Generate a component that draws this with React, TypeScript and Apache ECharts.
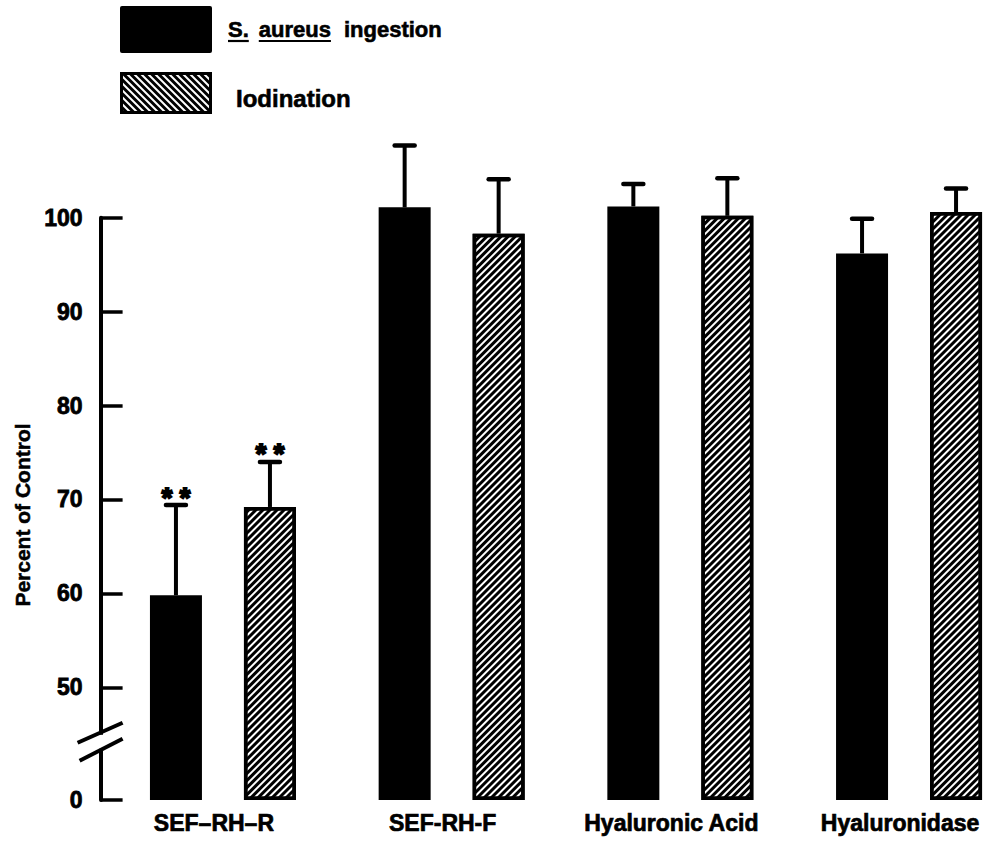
import React, { useEffect, useRef } from 'react';
import * as echarts from 'echarts';

// ---------- data ----------
const categories = ['SEF–RH–R', 'SEF-RH-F', 'Hyaluronic Acid', 'Hyaluronidase'];
const seriesNames = ['S. aureus ingestion', 'Iodination'];
const yAxisTitle = 'Percent of Control';
const ingestionValues = [59.8, 101.1, 101.2, 96.2];
const ingestionErrorTop = [69.4, 107.7, 103.6, 99.9];
const iodinationValues = [69.2, 98.3, 100.2, 100.6];
const iodinationErrorTop = [74.0, 104.1, 104.2, 103.1];
const ingestionMarks = ['**', '', '', ''];
const iodinationMarks = ['**', '', '', ''];
const yTickValues = [38, 50, 60, 70, 80, 90, 100];
const yTickLabels = ['0', '50', '60', '70', '80', '90', '100'];
const AXIS_MIN = 38;
const AXIS_MAX = 100;
const BREAK_VALUE = 44.2;

// ---------- layout ----------
const FONT = '"Liberation Sans", Arial, Helvetica, sans-serif';
const BAR_WIDTH = 52;
const BAR_GAP_PX = 42;
const GRID_LEFT = 108.6;
const BAND = 228.7;
const GRID_WIDTH = BAND * categories.length;
const GRID_TOP = 217.7;
const GRID_HEIGHT = 800 - GRID_TOP;
const Y_OFFSET = 8;

function errorSeries(values: number[], tops: number[], marks: string[], sign: number) {
  const offset = sign * (BAR_WIDTH + BAR_GAP_PX) / 2;
  return {
    type: 'custom',
    z: 10,
    clip: false,
    silent: true,
    encode: { x: 0, y: [1, 2] },
    data: categories.map((c, i) => [i, values[i], tops[i]]),
    renderItem: (params: any, api: any) => {
      const i = api.value(0);
      const base = api.coord([i, api.value(1)]);
      const top = api.coord([i, api.value(2)]);
      const x = base[0] + offset;
      const children: any[] = [
        { type: 'line', shape: { x1: x, y1: base[1], x2: x, y2: top[1] }, style: { stroke: '#000', lineWidth: 4 } },
        { type: 'line', shape: { x1: x - 10, y1: top[1], x2: x + 10, y2: top[1] }, style: { stroke: '#000', lineWidth: 4.5, lineCap: 'round' } },
      ];
      const m = marks[params.dataIndex];
      if (m) {
        children.push({
          type: 'text',
          style: {
            text: m.split('').join(' '),
            x,
            y: top[1] + 6,
            textAlign: 'center',
            textVerticalAlign: 'bottom',
            font: `bold 27px ${FONT}`,
            fill: '#000',
            stroke: '#000',
            lineWidth: 2,
          },
        });
      }
      return { type: 'group', children };
    },
  };
}

function hatchLines(x0: number, y0: number, x1: number, y1: number, step: number) {
  // "\" stripes: y - x = c
  const out: any[] = [];
  for (let c = y0 - x1 + step / 2; c < y1 - x0; c += step) {
    const xa = Math.max(x0, y0 - c);
    const xb = Math.min(x1, y1 - c);
    if (xb <= xa) continue;
    out.push({
      type: 'line',
      shape: { x1: xa, y1: xa + c, x2: xb, y2: xb + c },
      style: { stroke: '#000', lineWidth: 3 },
      silent: true,
    });
  }
  return out;
}

export default function App() {
  const ref = useRef<HTMLDivElement>(null);
  useEffect(() => {
    if (!ref.current) return;
    const chart = echarts.init(ref.current, null, { renderer: 'svg' });
    chart.setOption({
      animation: false,
      backgroundColor: '#fff',
      grid: {
        left: GRID_LEFT, width: GRID_WIDTH, top: GRID_TOP, height: GRID_HEIGHT,
        containLabel: false, outerBoundsMode: 'none',
      },
      xAxis: {
        type: 'category',
        data: categories,
        axisLine: { show: false },
        axisTick: { show: false },
        axisLabel: {
          interval: 0,
          hideOverlap: false,
          color: '#000', fontFamily: FONT, fontWeight: 'bold', fontSize: 23, margin: 11,
          padding: [0, 18, 0, 0],
          textBorderColor: '#000', textBorderWidth: 0.7,
        },
        splitLine: { show: false },
      },
      yAxis: {
        type: 'value',
        min: AXIS_MIN,
        max: AXIS_MAX,
        startValue: AXIS_MIN,
        offset: Y_OFFSET,
        axisLine: { show: true, lineStyle: { color: '#000', width: 4 } },
        axisTick: { show: true, inside: true, length: 22, customValues: yTickValues, lineStyle: { color: '#000', width: 3.5 } },
        axisLabel: {
          color: '#000',
          fontFamily: FONT,
          fontWeight: 'bold',
          fontSize: 23,
          margin: 18,
          textBorderColor: '#000',
          textBorderWidth: 0.8,
          customValues: yTickValues,
          formatter: (v: number) => {
            const k = yTickValues.indexOf(v);
            return k >= 0 ? yTickLabels[k] : '';
          },
        },
        splitLine: { show: false },
      },
      series: [
        {
          name: seriesNames[0],
          type: 'bar',
          data: ingestionValues,
          barWidth: BAR_WIDTH,
          barGap: `${(BAR_GAP_PX / BAR_WIDTH) * 100}%`,
          clip: false,
          itemStyle: { color: '#000' },
        },
        {
          name: seriesNames[1],
          type: 'bar',
          data: iodinationValues,
          barWidth: BAR_WIDTH,
          barGap: `${(BAR_GAP_PX / BAR_WIDTH) * 100}%`,
          clip: false,
          itemStyle: {
            color: '#fff',
            borderColor: '#000',
            borderWidth: 3.5,
            decal: {
              symbol: 'rect',
              symbolSize: 1,
              color: '#000',
              dashArrayX: [1, 0],
              dashArrayY: [3, 2],
              rotation: -Math.PI / 4,
            },
          },
        },
        errorSeries(ingestionValues, ingestionErrorTop, ingestionMarks, -1),
        errorSeries(iodinationValues, iodinationErrorTop, iodinationMarks, 1),
      ],
    });

    // axis break, axis title + legend graphics
    const axisX = GRID_LEFT - Y_OFFSET;
    const by = chart.convertToPixel({ yAxisIndex: 0 }, BREAK_VALUE) as number;
    const ctx = document.createElement('canvas').getContext('2d')!;
    const legendFont = `bold 22px ${FONT}`;
    ctx.font = legendFont;
    const words = seriesNames[0].split(' ');
    const wordGaps = [10, 13, 0];
    const legendTexts: any[] = [];
    let x = 228;
    words.forEach((w, wi) => {
      const wdt = ctx.measureText(w).width;
      legendTexts.push({
        type: 'text',
        style: { text: w, x, y: 29, font: legendFont, fill: '#000', textVerticalAlign: 'middle', stroke: '#000', lineWidth: 0.6 },
      });
      if (wi < 2) {
        legendTexts.push({
          type: 'line',
          shape: { x1: x, y1: 41, x2: x + wdt, y2: 41 },
          style: { stroke: '#000', lineWidth: 2.2 },
        });
      }
      x += wdt + wordGaps[wi];
    });

    chart.setOption({
      graphic: [
        {
          type: 'text', x: 22, y: 515, rotation: Math.PI / 2,
          style: {
            text: yAxisTitle, font: `bold 21px ${FONT}`, fill: '#000', textAlign: 'center',
            textVerticalAlign: 'middle', stroke: '#000', lineWidth: 0.5,
          },
        },
        { type: 'rect', shape: { x: axisX - 3, y: by - 7, width: 6, height: 14 }, style: { fill: '#fff' }, z: 100 },
        { type: 'line', shape: { x1: axisX - 23, y1: by + 1, x2: axisX + 22, y2: by - 19 }, style: { stroke: '#000', lineWidth: 4 }, z: 101 },
        { type: 'line', shape: { x1: axisX - 21, y1: by + 19, x2: axisX + 22, y2: by - 3 }, style: { stroke: '#000', lineWidth: 4 }, z: 101 },
        { type: 'rect', shape: { x: 120, y: 6, width: 92, height: 47, r: 2 }, style: { fill: '#000' } },
        { type: 'rect', shape: { x: 121.5, y: 73.5, width: 89, height: 39 }, style: { fill: '#fff', stroke: '#000', lineWidth: 3 } },
        ...hatchLines(121.5, 73.5, 210.5, 112.5, 7),
        ...legendTexts,
        { type: 'text', style: { text: seriesNames[1], x: 236, y: 98, font: `bold 24px ${FONT}`, fill: '#000', textVerticalAlign: 'middle', stroke: '#000', lineWidth: 0.6 } },
      ],
    });

    return () => chart.dispose();
  }, []);
  return <div ref={ref} style={{ position: 'absolute', left: 0, top: 0, width: 1008, height: 845 }} />;
}
